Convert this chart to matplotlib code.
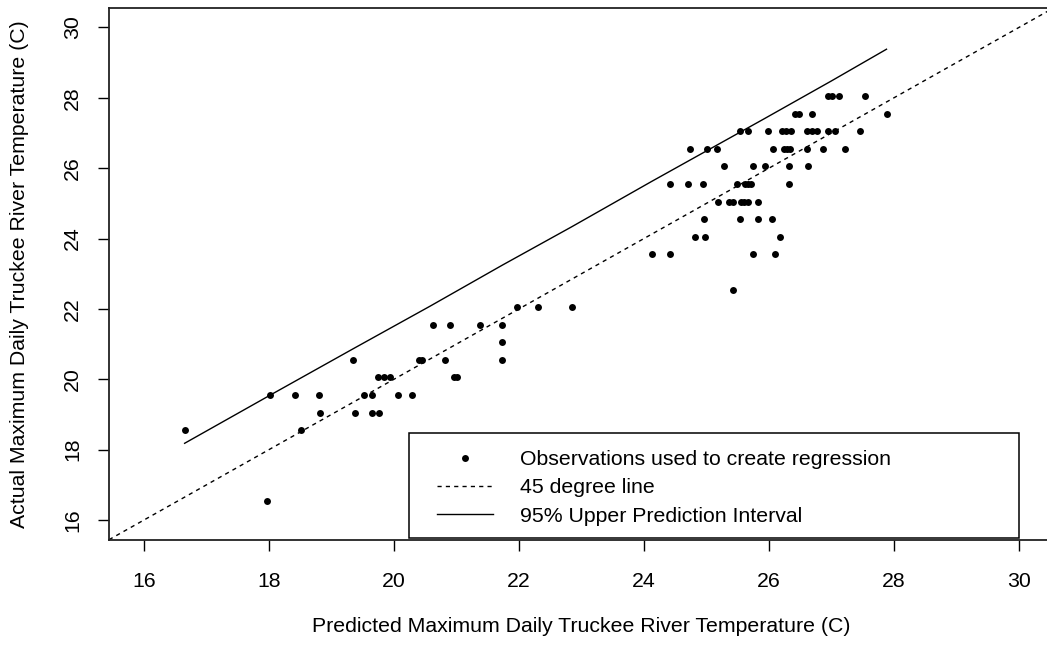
import matplotlib
matplotlib.use('Agg')
import matplotlib.pyplot as plt
from matplotlib.lines import Line2D
from matplotlib.patches import Rectangle

plt.rcParams['font.family'] = ['Liberation Sans', 'DejaVu Sans']

# observed (actual) temperature rows and the predicted values on each row
obs_y = [28.05, 27.55, 27.05, 26.55, 26.05, 25.55, 25.05, 24.55, 24.05, 23.55,
         22.55, 22.05, 21.55, 21.05, 20.55, 20.05, 19.55, 19.05, 18.55, 16.55]
obs_x = [
    [26.95, 27.01, 27.12, 27.54],
    [26.42, 26.48, 26.68, 27.88],
    [25.54, 25.66, 25.98, 26.21, 26.27, 26.35, 26.60, 26.68, 26.76, 26.94, 27.05, 27.46],
    [24.74, 25.00, 25.16, 26.06, 26.24, 26.29, 26.33, 26.60, 26.87, 27.22],
    [25.28, 25.75, 25.93, 26.32, 26.62],
    [24.41, 24.71, 24.95, 25.49, 25.62, 25.67, 25.72, 26.32],
    [25.18, 25.36, 25.42, 25.55, 25.60, 25.66, 25.83],
    [24.96, 25.54, 25.82, 26.04],
    [24.81, 24.97, 26.17],
    [24.12, 24.41, 25.75, 26.09],
    [25.43],
    [21.96, 22.30, 22.84],
    [20.63, 20.89, 21.37, 21.73],
    [21.73],
    [19.34, 20.40, 20.45, 20.81, 21.73],
    [19.75, 19.84, 19.94, 20.96, 21.01],
    [18.02, 18.42, 18.80, 19.52, 19.65, 20.06, 20.28],
    [18.82, 19.38, 19.65, 19.76],
    [16.65, 18.52],
    [17.96],
]

# 95% upper prediction interval
pi_x = [16.65, 18.02, 19.34, 20.58, 21.73, 22.84, 24.12, 25.00, 25.92, 27.00, 27.88]
pi_y = [18.18, 19.55, 20.86, 22.08, 23.24, 24.33, 25.62, 26.49, 27.40, 28.48, 29.38]

ticks = [16, 18, 20, 22, 24, 26, 28, 30]
labels = ['Observations used to create regression', '45 degree line',
          '95% Upper Prediction Interval']

W, H = 1047, 646
fig = plt.figure(figsize=(W / 100, H / 100), dpi=100)
ax = fig.add_axes([109 / W, 106.3 / H, 945 / W, 532 / H])

xs = [x for row in obs_x for x in row]
ys = [y for row, y in zip(obs_x, obs_y) for x in row]
ax.plot(xs, ys, 'o', color='black', ms=5, mec='black', mew=0)
ax.axline((0, 0), slope=1, color='black', lw=1.0, dashes=(3, 3))
ax.plot(pi_x, pi_y, color='black', lw=1.0)

ax.set_xlim(15.44, 30.56)
ax.set_ylim(15.44, 30.56)
ax.set_xticks(ticks)
ax.set_yticks(ticks)
ax.tick_params(direction='out', length=7.9, width=1.0, labelsize=15.3)
ax.tick_params(axis='x', pad=15)
ax.tick_params(axis='y', pad=11.5)
plt.setp(ax.get_yticklabels(), rotation=90, va='center')
for s in ax.spines.values():
    s.set_linewidth(1.3)
    s.set_color('#222222')

fig.text(581.5 / W, 1 - 627 / H, 'Predicted Maximum Daily Truckee River Temperature (C)',
         ha='center', va='center', fontsize=15.3)
fig.text(20 / W, 1 - 273.7 / H, 'Actual Maximum Daily Truckee River Temperature (C)',
         ha='center', va='center', rotation=90, fontsize=15.3)

# legend box
ax.add_patch(Rectangle((0.3175, 0.003), 0.6455, 0.198, transform=ax.transAxes,
                       fill=False, edgecolor='black', lw=1.1, zorder=5))
handles = [Line2D([], [], ls='none', marker='o', color='black', ms=5, mew=0),
           Line2D([], [], color='black', lw=1.0, dashes=(3, 3)),
           Line2D([], [], color='black', lw=1.0)]
leg = ax.legend(handles, labels, loc='upper left',
                bbox_to_anchor=((436.7 - 109) / 945, (539.7 - 450) / 532),
                frameon=False, borderpad=0, borderaxespad=0, fontsize=15.3,
                handlelength=2.65, handletextpad=1.27, labelspacing=0.44)

fig.savefig('out.png', dpi=100)
